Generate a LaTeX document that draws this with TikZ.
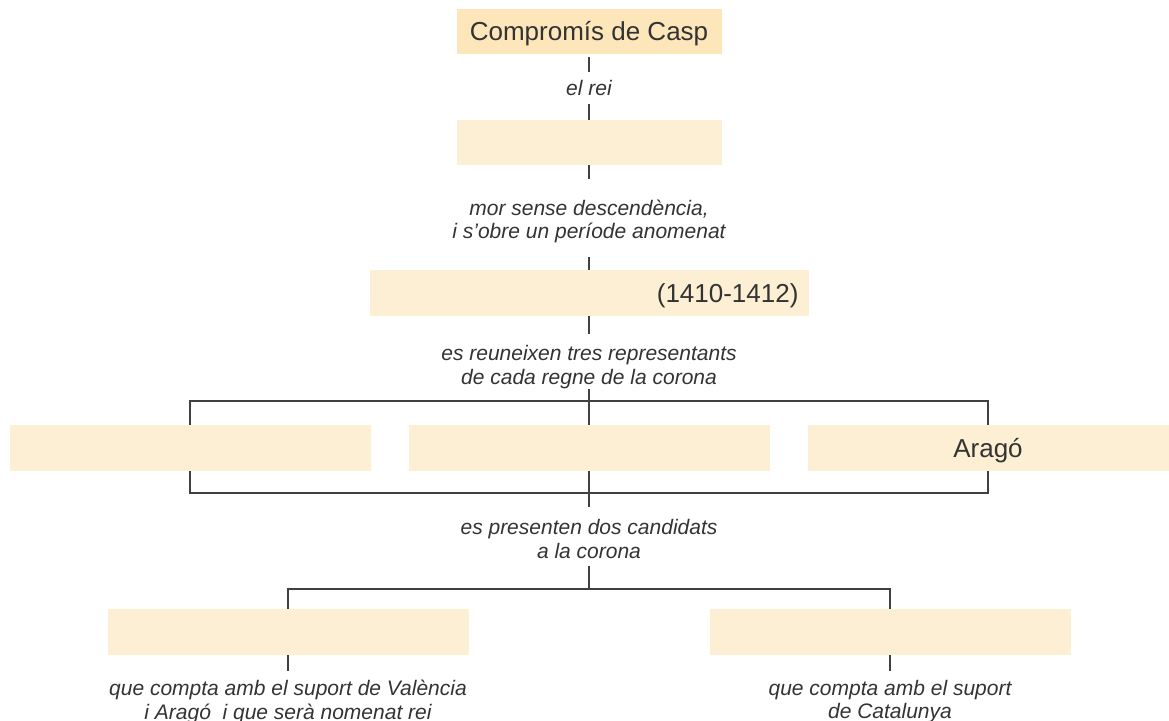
\documentclass[tikz,border=0pt]{standalone}
\usepackage{fontspec}
\setmainfont{Liberation Sans}
\usetikzlibrary{backgrounds}
\definecolor{boxA}{HTML}{FDE6B9}
\definecolor{boxB}{HTML}{FDEFD3}
\definecolor{ink}{HTML}{333333}
\definecolor{wireC}{HTML}{404040}
\begin{document}
\begin{tikzpicture}[x=1pt,y=-1pt,
  boxtext/.style={font=\fontsize{26}{30}\selectfont, text=ink, text height=18.7pt, text depth=0pt},
  hbox/.style={fill=boxB, minimum height=46pt, inner sep=0pt, boxtext},
  lbl/.style={font=\fontsize{21}{23.5}\selectfont\itshape, text=ink, align=center, inner sep=0pt},
  wire/.style={draw=wireC, line width=1.3pt}]
\useasboundingbox (0,0) rectangle (1169,720);
% boxes and labels
\node[hbox, fill=boxA, minimum width=265pt, minimum height=45pt] (casp) at (589,31.5) {Compromís de Casp};
\node[lbl, minimum height=32pt] (l1) at (589,88) {el rei};
\node[hbox, minimum width=265pt, minimum height=45pt] (rei) at (589,142.5) {};
\node[lbl, minimum height=71pt] (l2) at (589,221.5) {mor sense descendència,\\i s’obre un període anomenat};
\node[hbox, inner xsep=10pt, text width=419pt, align=right] (interr) at (589,293) {(1410-1412)};
\node[lbl, minimum height=42pt] (l3) at (589,367) {es reuneixen tres representants\\de cada regne de la corona};
\node[hbox, minimum width=361pt] (ra) at (190,448) {};
\node[hbox, minimum width=361pt] (rb) at (589,448) {};
\node[hbox, minimum width=361pt] (rc) at (988,448) {Aragó};
\node[lbl, minimum height=54pt] (l4) at (589,539) {es presenten dos candidats\\a la corona};
\coordinate (split) at (589,589);
\coordinate (btop) at (589,401);
\coordinate (bbot) at (589,493);
\node[hbox, minimum width=361pt] (ca) at (288,632) {};
\node[hbox, minimum width=361pt] (cb) at (890,632) {};
\node[lbl, anchor=north, inner ysep=9pt] (la) at (288,671) {que compta amb el suport de València\\i Aragó\ \ i que serà nomenat rei};
\node[lbl, anchor=north, inner ysep=9pt] (lb) at (890,671) {que compta amb el suport\\de Catalunya};
% connectors
\begin{pgfonlayer}{background}
\draw[wire, shorten <=2.5pt] (casp) -- (l1);
\draw[wire] (l1) -- (rei);
\draw[wire, shorten >=7pt] (rei) -- (l2);
\draw[wire] (l2) -- (interr);
\draw[wire, shorten >=11pt] (interr) -- (l3);
\draw[wire, shorten >=5pt] (l3) -- (l4);
\draw[wire] (ra |- btop) rectangle (rc |- bbot);
\draw[wire] (l4) -- (split);
\draw[wire] (ca) |- (split) -| (cb);
\draw[wire] (ca) -- (la);
\draw[wire] (cb) -- (lb);
\end{pgfonlayer}
\end{tikzpicture}
\end{document}
